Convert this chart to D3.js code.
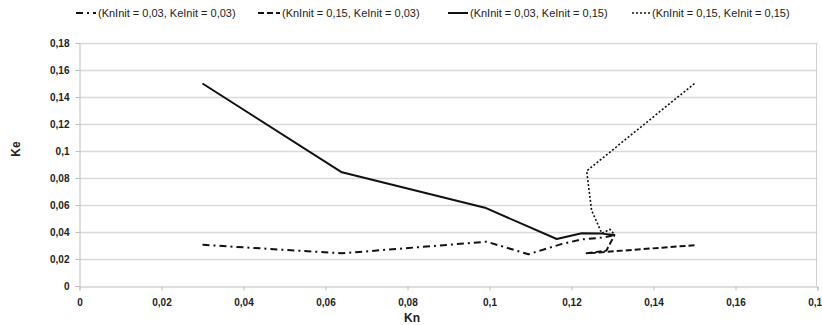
<!DOCTYPE html>
<html><head><meta charset="utf-8">
<script src="https://cdn.jsdelivr.net/npm/d3@7"></script>
<style>body{margin:0;background:#fff}svg{display:block;font-family:Arial,"Liberation Sans",sans-serif}</style>
</head><body><svg id="c" width="822" height="325"></svg>
<script>
const xTicks = [0,0.02,0.04,0.06,0.08,0.1,0.12,0.14,0.16,0.18];
const yTicks = [0,0.02,0.04,0.06,0.08,0.1,0.12,0.14,0.16,0.18];
const seriesNames = ["(KnInit = 0,03, KeInit = 0,03)","(KnInit = 0,15, KeInit = 0,03)","(KnInit = 0,03, KeInit = 0,15)","(KnInit = 0,15, KeInit = 0,15)"];
const s1 = [[0.03,0.0305],[0.064,0.0242],[0.0993,0.0328],[0.1095,0.0235],[0.1175,0.031],[0.1225,0.0345],[0.128,0.036],[0.1305,0.0378]];
const s2 = [[0.15,0.0302],[0.1237,0.0242],[0.1285,0.0262],[0.1305,0.0378]];
const s3 = [[0.03,0.15],[0.064,0.0842],[0.0989,0.058],[0.1164,0.0348],[0.1225,0.039],[0.1274,0.0388],[0.1306,0.0378]];
const s4 = [[0.15,0.15],[0.1237,0.0852],[0.1249,0.056],[0.1274,0.039],[0.1294,0.042],[0.1306,0.0378]];
const series = [s1,s2,s3,s4];
const dashes = ["7,4,2,4","6,3",null,"2,2"];
const widths = [2,2,2,1.6];

const svg = d3.select("#c");
const x = d3.scaleLinear().domain([0,0.18]).range([79.5,817.5]);
const y = d3.scaleLinear().domain([0,0.18]).range([286,43]);
const fmt = d => String(d).replace(".",",");

// gridlines
svg.append("g").selectAll("line").data(yTicks.slice(1)).join("line")
  .attr("x1",x(0)).attr("x2",x(0.18)).attr("y1",d=>Math.round(y(d))+0.5).attr("y2",d=>Math.round(y(d))+0.5)
  .attr("stroke","#d9d9d9").attr("stroke-width",1.3);
// right border
svg.append("line").attr("x1",816.5).attr("x2",816.5).attr("y1",y(0.18)).attr("y2",y(0)).attr("stroke","#d0d0d0");

const xa = svg.append("g").attr("transform",`translate(0,${Math.round(y(0))+0.5})`)
  .call(d3.axisBottom(x).tickValues(xTicks).tickFormat(fmt).tickSize(4).tickPadding(8));
const ya = svg.append("g").attr("transform",`translate(${Math.round(x(0))-0.5},0)`)
  .call(d3.axisLeft(y).tickValues(yTicks).tickFormat(fmt).tickSize(4).tickPadding(6));
[xa,ya].forEach(g=>{
  g.selectAll(".domain,line").attr("stroke","#bdbdbd");
  g.selectAll("text").attr("font-size",10).attr("font-weight","bold").attr("fill","#222").attr("font-family","Arial, 'Liberation Sans', sans-serif");
});
xa.selectAll("text").attr("dy","0.71em");

const line = d3.line().x(d=>x(d[0])).y(d=>y(d[1]));
series.forEach((s,i)=>{
  svg.append("path").attr("d",line(s)).attr("fill","none").attr("stroke","#111")
    .attr("stroke-width",widths[i]).attr("stroke-dasharray",dashes[i]).attr("stroke-linejoin","round");
});

svg.append("text").attr("x",412).attr("y",322).attr("text-anchor","middle").attr("font-size",12)
  .attr("font-weight","bold").attr("fill","#222").text("Kn");
svg.append("text").attr("transform","translate(20,149) rotate(-90)").attr("text-anchor","middle").attr("font-size",12)
  .attr("font-weight","bold").attr("fill","#222").text("Ke");

// legend
const legX = [76,258,448,632];
const symW = [20,22,20,18];
const lg = svg.append("g");
seriesNames.forEach((n,i)=>{
  lg.append("line").attr("x1",legX[i]).attr("x2",legX[i]+symW[i]).attr("y1",13).attr("y2",13)
    .attr("stroke","#111").attr("stroke-width",widths[i]).attr("stroke-dasharray",dashes[i]);
  lg.append("text").attr("x",legX[i]+symW[i]+2).attr("y",17).attr("font-size",11).attr("fill","#222").text(n);
});
</script></body></html>
